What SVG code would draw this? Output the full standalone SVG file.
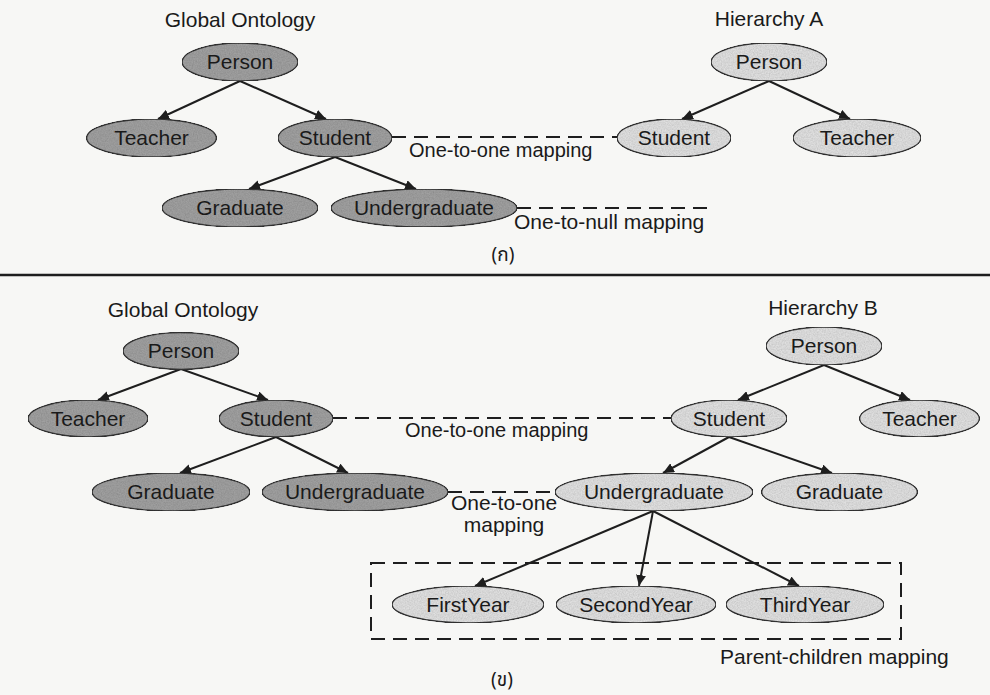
<svg xmlns="http://www.w3.org/2000/svg" width="990" height="695" viewBox="0 0 990 695">
  <style>
    text { font-family: "Liberation Sans", Arial, sans-serif; fill: #1a1a1a; }
    .lbl { font-size: 21px; text-anchor: middle; }
    .title { font-size: 21px; text-anchor: middle; }
    .map { font-size: 20px; }
    .cap { font-size: 19px; text-anchor: middle; font-family: "Noto Sans Thai", "Noto Sans", "DejaVu Sans", sans-serif; }
    ellipse { stroke: #333; stroke-width: 1.6; filter: url(#grain); }
    .dark { fill: #a0a0a0; }
    .light { fill: #e0e0e0; }
    .edge { stroke: #1e1e1e; stroke-width: 2; fill: none; marker-end: url(#tip); }
    .dash { stroke: #1e1e1e; stroke-width: 2; fill: none; stroke-dasharray: 14 8; }
  </style>
  <defs>
    <marker id="tip" markerUnits="userSpaceOnUse" markerWidth="12" markerHeight="10" refX="11" refY="5" orient="auto">
      <path d="M0,0 L11,5 L0,10 z" fill="#1e1e1e"/>
    </marker>
    <!-- speckled print texture for the node fills -->
    <filter id="grain" x="0" y="0" width="100%" height="100%">
      <feTurbulence type="fractalNoise" baseFrequency="0.75" numOctaves="2" seed="4" result="noise"/>
      <feColorMatrix in="noise" type="saturate" values="0" result="gray"/>
      <feComponentTransfer in="gray" result="soft">
        <feFuncR type="linear" slope="0.5" intercept="0.65"/>
        <feFuncG type="linear" slope="0.5" intercept="0.65"/>
        <feFuncB type="linear" slope="0.5" intercept="0.65"/>
        <feFuncA type="linear" slope="0" intercept="1"/>
      </feComponentTransfer>
      <feBlend in="SourceGraphic" in2="soft" mode="multiply" result="mix"/>
      <feComposite in="mix" in2="SourceGraphic" operator="in"/>
    </filter>
  </defs>

  <rect x="0" y="0" width="990" height="695" fill="#f7f7f5"/>

  <!-- section titles and captions -->
  <text class="title" x="240" y="27">Global Ontology</text>
  <text class="title" x="769" y="26">Hierarchy A</text>
  <text class="title" x="183" y="317">Global Ontology</text>
  <text class="title" x="823" y="315">Hierarchy B</text>
  <text class="cap" x="503" y="261">(ก)</text>
  <text class="cap" x="502" y="686">(ข)</text>
  <line x1="0" y1="275" x2="990" y2="275" stroke="#1e1e1e" stroke-width="2.5"/>

  <!-- connectors -->
  <g id="connectors">
    <line class="edge" x1="240" y1="81" x2="158" y2="119"/>
    <line class="edge" x1="240" y1="81" x2="326" y2="119"/>
    <line class="edge" x1="335" y1="157" x2="249" y2="189"/>
    <line class="edge" x1="335" y1="157" x2="416" y2="189"/>
    <line class="edge" x1="769" y1="81" x2="682" y2="119"/>
    <line class="edge" x1="769" y1="81" x2="850" y2="119"/>
    <line class="dash" x1="392" y1="137" x2="617" y2="137"/>
    <line class="dash" x1="517" y1="208" x2="708" y2="208"/>

    <line class="edge" x1="181" y1="369" x2="98" y2="400"/>
    <line class="edge" x1="181" y1="369" x2="268" y2="400"/>
    <line class="edge" x1="276" y1="437" x2="180" y2="473"/>
    <line class="edge" x1="276" y1="437" x2="348" y2="473"/>
    <line class="edge" x1="824" y1="365" x2="738" y2="400"/>
    <line class="edge" x1="824" y1="365" x2="910" y2="400"/>
    <line class="edge" x1="729" y1="437" x2="663" y2="473"/>
    <line class="edge" x1="729" y1="437" x2="832" y2="473"/>
    <line class="edge" x1="653" y1="511" x2="475" y2="586"/>
    <line class="edge" x1="653" y1="511" x2="639" y2="586"/>
    <line class="edge" x1="653" y1="511" x2="799" y2="586"/>
    <line class="dash" x1="333" y1="418" x2="671" y2="418"/>
    <line class="dash" x1="448" y1="492" x2="555" y2="492"/>
    <rect class="dash" x="371" y="563" width="530" height="76"/>

    <text class="map" x="409" y="157">One-to-one mapping</text>
    <text class="map" x="514" y="229" style="font-size:21px">One-to-null mapping</text>
    <text class="map" x="405" y="437">One-to-one mapping</text>
    <text class="map" x="504" y="510" style="font-size:21px;text-anchor:middle">One-to-one</text>
    <text class="map" x="504" y="532" style="font-size:21px;text-anchor:middle">mapping</text>
    <text class="map" x="720" y="664" style="font-size:21px">Parent-children mapping</text>
  </g>

  <!-- global ontology (top) -->
  <g id="g1-person"><ellipse class="dark" cx="240" cy="62" rx="58" ry="19"/><text class="lbl" x="240" y="69">Person</text></g>
  <g id="g1-teacher"><ellipse class="dark" cx="151.5" cy="138" rx="65" ry="19"/><text class="lbl" x="151.5" y="145">Teacher</text></g>
  <g id="g1-student"><ellipse class="dark" cx="335" cy="138" rx="57" ry="19"/><text class="lbl" x="335" y="145">Student</text></g>
  <g id="g1-graduate"><ellipse class="dark" cx="240" cy="208" rx="78" ry="19"/><text class="lbl" x="240" y="215">Graduate</text></g>
  <g id="g1-undergraduate"><ellipse class="dark" cx="424" cy="208" rx="93" ry="19"/><text class="lbl" x="424" y="215">Undergraduate</text></g>

  <!-- hierarchy A -->
  <g id="ha-person"><ellipse class="light" cx="769" cy="62" rx="58" ry="19"/><text class="lbl" x="769" y="69">Person</text></g>
  <g id="ha-student"><ellipse class="light" cx="674" cy="138" rx="57" ry="19"/><text class="lbl" x="674" y="145">Student</text></g>
  <g id="ha-teacher"><ellipse class="light" cx="857" cy="138" rx="64" ry="19"/><text class="lbl" x="857" y="145">Teacher</text></g>

  <!-- global ontology (bottom) -->
  <g id="g2-person"><ellipse class="dark" cx="181" cy="351" rx="58" ry="18.5"/><text class="lbl" x="181" y="358">Person</text></g>
  <g id="g2-teacher"><ellipse class="dark" cx="88" cy="418.5" rx="60" ry="18.5"/><text class="lbl" x="88" y="425.5">Teacher</text></g>
  <g id="g2-student"><ellipse class="dark" cx="276" cy="418.5" rx="57" ry="18.5"/><text class="lbl" x="276" y="425.5">Student</text></g>
  <g id="g2-graduate"><ellipse class="dark" cx="171" cy="492" rx="79" ry="19"/><text class="lbl" x="171" y="499">Graduate</text></g>
  <g id="g2-undergraduate"><ellipse class="dark" cx="355" cy="492" rx="93" ry="19"/><text class="lbl" x="355" y="499">Undergraduate</text></g>

  <!-- hierarchy B -->
  <g id="hb-person"><ellipse class="light" cx="824" cy="346" rx="58" ry="19"/><text class="lbl" x="824" y="353">Person</text></g>
  <g id="hb-student"><ellipse class="light" cx="729" cy="418.5" rx="58" ry="18.5"/><text class="lbl" x="729" y="425.5">Student</text></g>
  <g id="hb-teacher"><ellipse class="light" cx="919.5" cy="418.5" rx="60" ry="18.5"/><text class="lbl" x="919.5" y="425.5">Teacher</text></g>
  <g id="hb-undergraduate"><ellipse class="light" cx="654" cy="492" rx="99" ry="19"/><text class="lbl" x="654" y="499">Undergraduate</text></g>
  <g id="hb-graduate"><ellipse class="light" cx="839.5" cy="492" rx="78" ry="19"/><text class="lbl" x="839.5" y="499">Graduate</text></g>
  <g id="hb-firstyear"><ellipse class="light" cx="468" cy="604.5" rx="76" ry="18.5"/><text class="lbl" x="468" y="611.5">FirstYear</text></g>
  <g id="hb-secondyear"><ellipse class="light" cx="636" cy="604.5" rx="80" ry="18.5"/><text class="lbl" x="636" y="611.5">SecondYear</text></g>
  <g id="hb-thirdyear"><ellipse class="light" cx="805" cy="604.5" rx="79" ry="18.5"/><text class="lbl" x="805" y="611.5">ThirdYear</text></g>
</svg>
